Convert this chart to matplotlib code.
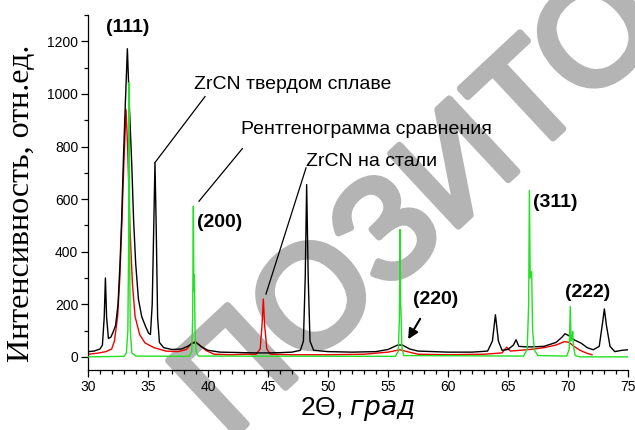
#!/usr/bin/env python3
"""XRD patterns of ZrCN coatings (hard alloy / steel) vs. reference pattern."""

import matplotlib

matplotlib.use("Agg")
import matplotlib.patheffects as pe
import matplotlib.pyplot as plt
from matplotlib.ticker import MultipleLocator

# black: ZrCN on hard alloy (2theta, intensity)
ALLOY_X = [30.0, 30.5, 31.0, 31.2, 31.35, 31.45, 31.55, 31.7, 31.9, 32.1, 32.3, 32.5,
           32.67, 32.8, 32.94, 33.1, 33.28, 33.45, 33.64, 33.8, 33.97, 34.2, 34.47,
           34.8, 35.05, 35.2, 35.35, 35.48, 35.58, 35.68, 35.8, 35.95, 36.3, 37.0,
           37.8, 38.3, 38.7, 39.0, 39.4, 40.0, 41.0, 42.0, 43.0, 44.0, 45.0, 46.0,
           47.0, 47.7, 47.95, 48.1, 48.22, 48.35, 48.5, 48.8, 50.0, 52.0, 54.0, 55.0,
           55.8, 56.2, 56.8, 57.5, 60.0, 62.0, 63.3, 63.7, 63.95, 64.2, 64.5, 65.0,
           65.45, 65.67, 65.9, 66.5, 67.0, 68.0, 69.0, 69.5, 69.75, 70.1, 70.5, 71.1,
           71.6, 72.1, 72.6, 72.85, 73.03, 73.2, 73.5, 73.9, 74.5, 75.0]
ALLOY_Y = [20, 22, 30, 45, 150, 300, 150, 70, 75, 95, 120, 200,
           358, 520, 738, 950, 1172, 950, 738, 520, 357, 220, 154,
           115, 90, 85, 200, 500, 738, 500, 150, 55, 35, 28,
           30, 40, 52, 55, 40, 25, 18, 17, 16, 15, 15, 16,
           18, 25, 60, 300, 655, 300, 60, 25, 20, 18, 20, 28,
           45, 45, 30, 22, 18, 18, 22, 60, 160, 60, 25, 28,
           45, 65, 40, 38, 38, 40, 55, 75, 88, 80, 65, 52,
           35, 27, 40, 120, 182, 120, 40, 20, 25, 27]

# red: ZrCN on steel
STEEL_X = [30.0, 30.8, 31.5, 31.97, 32.2, 32.47, 32.65, 32.8, 33.0, 33.17, 33.3, 33.5,
           33.7, 33.92, 34.3, 34.75, 35.5, 36.5, 37.5, 38.2, 38.6, 38.92, 39.3, 39.8,
           40.5, 42.0, 43.0, 44.0, 44.35, 44.5, 44.61, 44.72, 44.9, 45.2, 47.0, 50.0,
           53.0, 55.0, 56.0, 56.6, 57.5, 60.0, 63.0, 64.5, 64.89, 65.2, 66.0, 67.0,
           68.0, 69.0, 69.7, 70.1, 70.5, 71.0, 71.5, 72.0]
STEEL_Y = [10, 14, 20, 30, 60, 154, 300, 484, 750, 941, 800, 484,
           280, 154, 85, 53, 35, 22, 20, 28, 50, 58, 45, 25,
           10, 8, 10, 10, 30, 120, 220, 120, 30, 10, 8, 8,
           10, 18, 27, 20, 10, 8, 10, 15, 37, 22, 25, 29,
           35, 45, 58, 55, 40, 25, 15, 8]

# green: reference pattern
REF_X = [30.0, 33.0, 33.2, 33.32, 33.38, 33.42, 33.47, 33.52, 33.65, 34.0,
         38.4, 38.65, 38.72, 38.78, 38.82, 38.86, 38.92, 39.0, 39.2,
         55.6, 55.85, 55.95, 56.0, 56.05, 56.08, 56.15, 56.3,
         66.3, 66.6, 66.72, 66.78, 66.85, 66.97, 67.05, 67.2, 67.5,
         69.9, 70.1, 70.19, 70.25, 70.33, 70.39, 70.45, 70.6, 71.0, 75.0]
REF_Y = [0, 2, 15, 100, 400, 1043, 400, 100, 15, 3,
         2, 20, 150, 573, 250, 312, 100, 20, 3,
         2, 20, 150, 484, 200, 180, 40, 5,
         3, 30, 200, 633, 300, 325, 100, 25, 5,
         3, 30, 192, 60, 70, 97, 40, 5, 0, 0]

X_TICKS = [30, 35, 40, 45, 50, 55, 60, 65, 70, 75]
Y_TICKS = [0, 200, 400, 600, 800, 1000, 1200]

# Miller index labels: (text, x, y)
HKL_LABELS = [("(111)", 33.29, 1253), ("(200)", 41.0, 510), ("(311)", 68.92, 587),
              ("(220)", 58.96, 217), ("(222)", 71.67, 244)]

BLACK = "#000000"
RED = "#ee0000"
GREEN = "#22e022"
WATERMARK = "#b4b4b4"
SANS = ["Liberation Sans", "DejaVu Sans"]
SERIF = ["Liberation Serif", "DejaVu Serif"]


def callout(ax, text, xy_peak, xy_text, label_pos):
    ax.plot([xy_peak[0], xy_text[0]], [xy_peak[1], xy_text[1]], color="black", lw=0.9)
    ax.text(label_pos[0], label_pos[1], text, ha="left", va="center",
            fontsize=14, family=SANS)


def main():
    fig = plt.figure(figsize=(6.35, 4.3), dpi=100)
    ax = fig.add_axes([0.1386, 0.1395, 0.8504, 0.8255])
    ax.set_facecolor("none")

    # watermark, behind everything
    fig.text(0.665, 0.515, "ПОЗИТО", rotation=43, rotation_mode="anchor",
             ha="center", va="center", fontsize=104, color=WATERMARK,
             family=SANS, zorder=-5,
             path_effects=[pe.withStroke(linewidth=5, foreground=WATERMARK)])

    ax.plot(REF_X, REF_Y, color=GREEN, lw=1.0, zorder=3)
    ax.plot(STEEL_X, STEEL_Y, color=RED, lw=1.0, zorder=2)
    ax.plot(ALLOY_X, ALLOY_Y, color=BLACK, lw=1.0, zorder=2.5)

    ax.set_xlim(30, 75)
    ax.set_ylim(-50, 1300)
    ax.set_xticks(X_TICKS)
    ax.set_yticks(Y_TICKS)
    ax.xaxis.set_minor_locator(MultipleLocator(1))
    ax.yaxis.set_minor_locator(MultipleLocator(100))
    ax.tick_params(which="major", direction="out", length=5, width=0.9, labelsize=10, pad=2)
    ax.tick_params(which="minor", direction="out", length=3, width=0.9)
    for lab in ax.get_xticklabels() + ax.get_yticklabels():
        lab.set_family(SANS)
    for side in ("top", "right"):
        ax.spines[side].set_visible(False)
    for side in ("left", "bottom"):
        ax.spines[side].set_linewidth(0.9)

    ax.set_xlabel("2Θ, $\\it{град}$", fontsize=19, family=SANS, labelpad=1)
    ax.set_ylabel("Интенсивность, отн.ед.", fontsize=23, family=SERIF)
    ax.yaxis.set_label_coords(-0.096, 0.47)

    callout(ax, "ZrCN твердом сплаве", (35.58, 739), (39.75, 990), (38.83, 1036))
    callout(ax, "Рентгенограмма сравнения", (39.25, 592), (42.86, 792), (42.72, 865))
    callout(ax, "ZrCN на стали", (44.83, 239), (48.17, 719), (48.17, 744))

    for text, x, y in HKL_LABELS:
        ax.text(x, y, text, ha="center", va="center", fontsize=14,
                fontweight="bold", family=SANS)

    ax.annotate("", xy=(56.56, 58), xytext=(57.8, 154),
                arrowprops=dict(arrowstyle="-|>", color="black", lw=1.5,
                                mutation_scale=15))

    fig.savefig("out.png", dpi=100)
    plt.close(fig)


if __name__ == "__main__":
    main()
